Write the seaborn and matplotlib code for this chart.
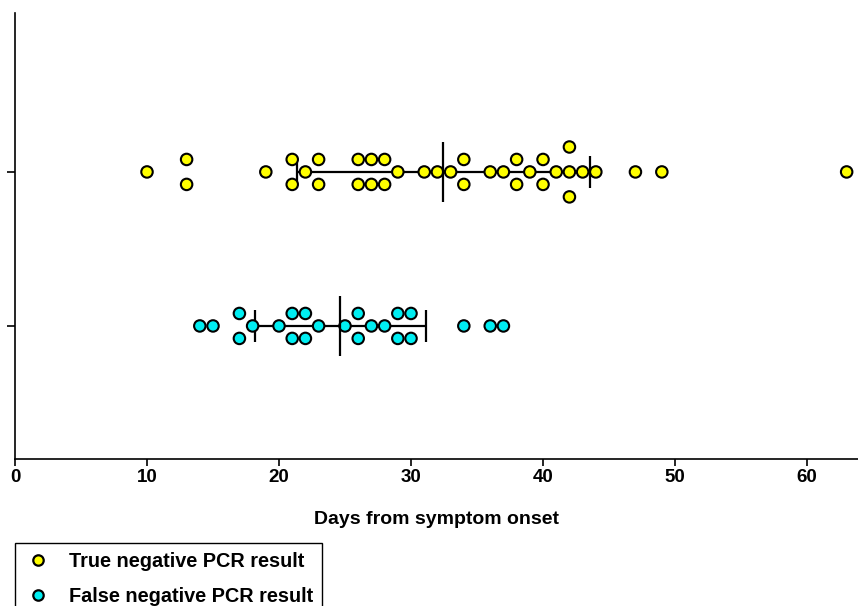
import numpy as np
import pandas as pd
import matplotlib
matplotlib.use('Agg')
import matplotlib.pyplot as plt
from matplotlib.lines import Line2D
import seaborn as sns

# Data (days from symptom onset)
groups = ['True negative PCR result', 'False negative PCR result']
true_neg_days = [10, 13, 13, 19, 21, 21, 22, 23, 23, 26, 26, 27, 27, 28, 28, 29,
                 31, 32, 33, 34, 34, 36, 37, 38, 38, 39, 40, 40, 41, 42, 42, 42,
                 43, 44, 47, 49, 63]
false_neg_days = [14, 15, 17, 17, 18, 20, 21, 21, 22, 22, 23, 25, 26, 26, 27, 28,
                  29, 29, 30, 30, 34, 36, 37]
colors = ['#FFFF00', '#00EEF2']
xticks = [0, 10, 20, 30, 40, 50, 60]

# stack identical values vertically, centred on the category line
step = 0.162
rows = []
for gi, (g, days) in enumerate(zip(groups, [true_neg_days, false_neg_days])):
    s = pd.Series(days)
    for val, cnt in s.value_counts().sort_index().items():
        for i in range(cnt):
            rows.append({'day': val, 'group': g, 'pos': gi + (i - (cnt - 1) / 2) * step})
df = pd.DataFrame(rows)

sns.set_style('ticks')
plt.rcParams['font.family'] = ['Liberation Sans', 'DejaVu Sans']
plt.rcParams['font.weight'] = 'bold'
plt.rcParams['text.color'] = 'black'
plt.rcParams['xtick.color'] = 'black'
plt.rcParams['ytick.color'] = 'black'
plt.rcParams['axes.labelcolor'] = 'black'

fig = plt.figure(figsize=(8.58, 6.06), dpi=100)
ax = fig.add_axes([15 / 858, 147 / 606, 843 / 858, 446 / 606])

sns.scatterplot(data=df, x='day', y='pos', hue='group', palette=colors,
                s=68, edgecolor='black', linewidth=1.5, zorder=3, legend=False, ax=ax)

# mean +/- SD
stats = pd.DataFrame({'day': true_neg_days + false_neg_days,
                      'group': [groups[0]] * len(true_neg_days) + [groups[1]] * len(false_neg_days)})
summ = stats.groupby('group', sort=False)['day'].agg(['mean', 'std'])
ypos = np.arange(len(groups))
ax.errorbar(summ['mean'], ypos, xerr=summ['std'], fmt='none', ecolor='black',
            elinewidth=1.6, capsize=11.5, capthick=1.6, zorder=1)
ax.vlines(summ['mean'], ypos - 0.195, ypos + 0.195, color='black', lw=1.6, zorder=4)

ax.set_xlim(0, 63.86)
ax.set_ylim(1.864, -1.032)
ax.set_xticks(xticks)
ax.set_yticks(ypos)
ax.set_yticklabels([])
ax.set_ylabel('')
ax.set_xlabel('Days from symptom onset', fontsize=14, fontweight='bold', labelpad=18)
ax.tick_params(axis='x', length=5, width=1.2, pad=2, labelsize=13.5)
ax.tick_params(axis='y', length=6, width=1.2)
for lab in ax.get_xticklabels():
    lab.set_fontweight('bold')
sns.despine(ax=ax)
for side in ['left', 'bottom']:
    ax.spines[side].set_linewidth(1.2)
    ax.spines[side].set_color('black')

handles = [Line2D([], [], marker='o', linestyle='none', markersize=7.5,
                  markerfacecolor=c, markeredgecolor='black', markeredgewidth=1.6)
           for c in colors]
leg = fig.legend(handles, groups, loc='upper left', bbox_to_anchor=(15 / 858, 1 - 543 / 606),
                 frameon=True, fancybox=False, edgecolor='black', framealpha=1,
                 borderaxespad=0, borderpad=0.45, labelspacing=0.8,
                 handlelength=1.4, handletextpad=0.85,
                 prop={'size': 14.3, 'weight': 'bold'})
leg.get_frame().set_linewidth(1.0)

fig.savefig('out.png', dpi=100)
